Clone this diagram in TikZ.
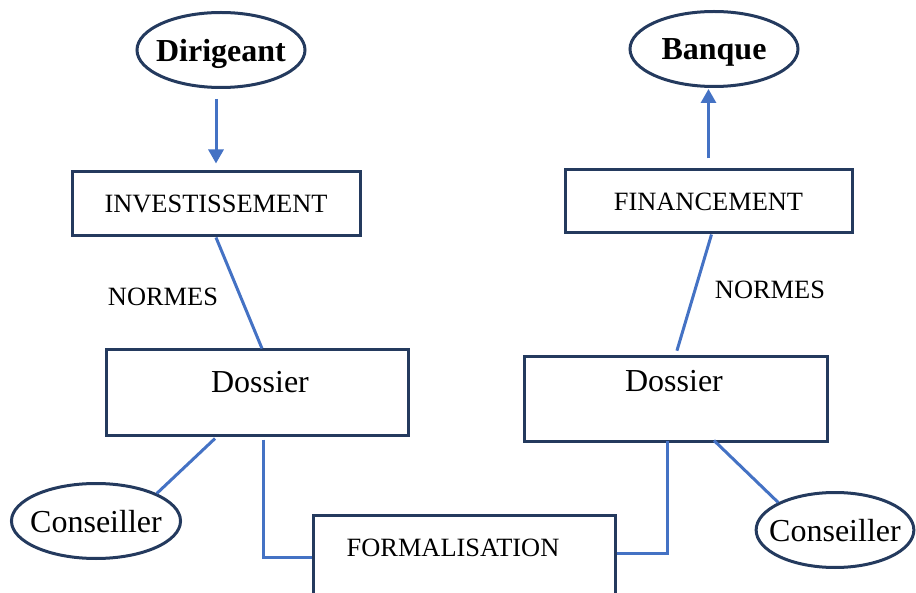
\documentclass[tikz,border=0pt]{standalone}
\usepackage{fontspec}
\setmainfont{Liberation Serif}
\usetikzlibrary{shapes.geometric, arrows.meta, positioning, calc}
\definecolor{boxnavy}{RGB}{36, 58, 94}
\definecolor{linkblue}{RGB}{68, 114, 196}

\begin{document}
\begin{tikzpicture}[x=0.5pt, y=-0.5pt,
  boite/.style={draw=boxnavy, line width=1.5pt, inner sep=0pt, font=\fontsize{13.2}{15}\selectfont},
  acteur/.style={draw=boxnavy, line width=1.5pt, ellipse, inner xsep=-3pt, inner ysep=0pt, text depth=0pt, minimum height=37.5pt},
  lien/.style={draw=linkblue, line width=1.5pt},
  fleche/.style={lien, -{Triangle[width=7.5pt, length=7pt]}}]
  \clip (0, 0) rectangle (916, 593);

  % ===== ACTEURS (haut) =====
  \node[acteur, minimum width=84pt, font=\fontsize{16}{19}\selectfont\bfseries] (dirig) at (221, 50) {Dirigeant};
  \node[acteur, minimum width=84pt, font=\fontsize{16}{19}\selectfont\bfseries] (banque) at (714, 49) {Banque};

  % ===== GAUCHE =====
  \node[boite, minimum width=144pt, minimum height=32pt] (invest) at (216, 204) {INVESTISSEMENT};
  \draw[fleche, shorten <=5pt, shorten >=3.5pt] (invest.north |- dirig.south) -- (invest.north);

  \node[boite, minimum width=151pt, minimum height=42.5pt] (dosG) at (257, 392.5) {};
  \node[font=\fontsize{16}{19}\selectfont] (dosGtxt) at (260, 382) {Dossier};
  \draw[lien] (invest.south) -- ([xshift=2.5pt]dosG.north);
  \node[font=\fontsize{13.2}{15}\selectfont] (normG) at (163, 297) {NORMES};

  \node[acteur, minimum width=84.5pt, font=\fontsize{16}{19}\selectfont] (conG) at (96, 521) {Conseiller};
  \draw[lien] ([xshift=-21pt, yshift=-1pt]dosG.south) -- (conG.north east);

  % ===== DROITE =====
  \node[boite, minimum width=143.5pt, minimum height=31.5pt] (finan) at (708.5, 201.5) {FINANCEMENT};
  \draw[fleche, shorten <=5pt, shorten >=0.5pt] (finan.north) -- (finan.north |- banque.south);

  \node[boite, minimum width=151.5pt, minimum height=42pt] (dosD) at (675.5, 399) {};
  \node[font=\fontsize{16}{19}\selectfont] (dosDtxt) at (674, 381) {Dossier};
  \draw[lien, shorten >=2.5pt] ([xshift=1.5pt]finan.south) -- (dosD.north);
  \node[font=\fontsize{13.2}{15}\selectfont] (normD) at (770, 290) {NORMES};

  \node[acteur, inner xsep=-5pt, minimum width=78pt, font=\fontsize{16}{19}\selectfont] (conD) at (835, 530) {Conseiller};
  \draw[lien] ([xshift=19.25pt, yshift=1pt]dosD.south) -- (conD.north west);

  % ===== FORMALISATION (bas, coupee) =====
  \node[boite, minimum width=151pt, minimum height=42.5pt] (formal) at (464, 557.5) {};
  \node[font=\fontsize{13.2}{15}\selectfont] (formaltxt) at (453, 548) {FORMALISATION};
  \draw[lien] ([xshift=3pt, yshift=-1.5pt]dosG.south) |- (formal.west);
  \draw[lien] ([yshift=2pt]formal.east) -| ([xshift=-4.25pt, yshift=1pt]dosD.south);
\end{tikzpicture}
\end{document}
